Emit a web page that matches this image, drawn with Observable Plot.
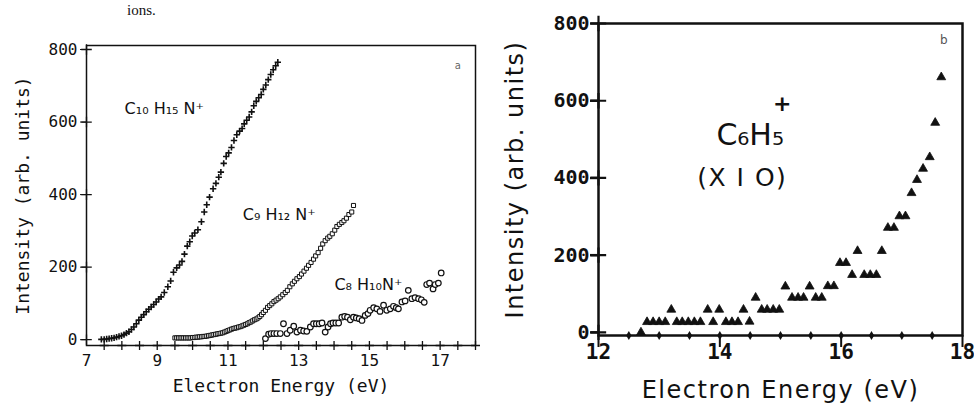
<!DOCTYPE html>
<html><head><meta charset="utf-8">
<script src="https://cdn.jsdelivr.net/npm/d3@7"></script>
<script src="https://cdn.jsdelivr.net/npm/@observablehq/plot@0.6"></script>
<style>
body{margin:0;background:#fff;}
#wrap{position:relative;width:974px;height:410px;overflow:hidden;background:#fff;}
#a{position:absolute;left:0;top:0;}
#b{position:absolute;left:490px;top:0;}
#cap{position:absolute;left:127px;top:2px;font:15px/17px "Liberation Serif",serif;color:#111;z-index:2;}
</style></head><body>
<div id="wrap"><div id="a"></div><div id="b"></div><div id="cap">ions.</div></div>
<script>
// ---------- Panel a data ----------
const c10E = [7.42,7.5,7.57,7.64,7.71,7.78,7.85,7.92,7.99,8.06,8.13,8.2,8.27,8.34,8.41,8.48,8.55,8.62,8.69,8.76,8.83,8.9,8.97,9.04,9.11,9.2,9.3,9.38,9.46,9.55,9.63,9.7,9.77,9.85,9.92,9.99,10.06,10.15,10.25,10.33,10.4,10.48,10.58,10.66,10.74,10.8,10.88,10.95,11.02,11.1,11.17,11.25,11.33,11.4,11.46,11.53,11.6,11.67,11.73,11.8,11.87,11.94,12.0,12.07,12.14,12.21,12.28,12.35,12.41];
const c10I = [1,1,2,3,4,5,7,9,11,14,18,22,28,35,44,54,62,69,77,84,90,97,104,112,118,130,146,162,186,198,206,216,236,258,270,286,294,303,325,352,372,393,416,431,448,462,486,505,515,530,549,565,575,582,595,605,614,628,645,657,667,676,690,702,717,731,744,755,765];

const c9E = [9.5,9.55,9.6,9.65,9.7,9.75,9.8,9.85,9.9,9.95,10.0,10.05,10.1,10.15,10.2,10.25,10.3,10.35,10.4,10.45,10.5,10.55,10.6,10.65,10.7,10.75,10.8,10.85,10.9,10.95,11.0,11.05,11.1,11.15,11.2,11.25,11.3,11.35,11.4,11.45,11.5,11.55,11.6,11.65,11.7,11.75,11.8,11.85,11.9,11.95,12.0,12.06,12.12,12.18,12.24,12.3,12.36,12.42,12.48,12.55,12.62,12.68,12.75,12.82,12.88,12.95,13.02,13.08,13.15,13.22,13.28,13.35,13.42,13.48,13.55,13.62,13.68,13.75,13.82,13.88,13.95,14.02,14.08,14.15,14.22,14.28,14.35,14.42,14.5,14.55];
const c9I = [5,5,5,5,5,5,5,5,5,5,6,6,7,7,8,8,9,9,10,11,12,13,14,15,16,17,18,19,21,23,25,27,29,31,32,33,35,36,38,40,42,44,47,49,52,55,57,60,64,69,75,81,89,94,99,105,109,113,118,124,130,136,146,154,161,168,174,181,189,197,205,213,222,231,240,252,264,273,280,285,292,302,312,318,323,328,335,345,352,370];

const c8E = [12.06,12.15,12.22,12.3,12.38,12.48,12.57,12.67,12.76,12.86,12.95,13.05,13.14,13.23,13.33,13.42,13.5,13.58,13.66,13.75,13.83,13.9,13.97,14.05,14.13,14.22,14.3,14.38,14.46,14.55,14.63,14.71,14.79,14.88,14.96,15.02,15.12,15.21,15.3,15.4,15.49,15.59,15.68,15.76,15.82,15.92,16.01,16.1,16.2,16.29,16.39,16.47,16.55,16.62,16.7,16.8,16.86,16.95,17.03];
const c8I = [3,15,17,17,17,17,44,17,26,37,21,26,24,23,35,44,44,44,46,21,35,44,46,46,46,62,64,62,55,62,60,58,53,67,72,81,88,85,78,95,81,85,92,88,85,104,107,136,113,116,113,110,103,152,156,140,152,156,184];

const xTicksA = [7,9,11,13,15,17];
const xMinorA = [7.5,8,8.5,9,9.5,10,10.5,11,11.5,12,12.5,13,13.5,14,14.5,15,15.5,16,16.5,17,17.5,18];
const yTicksA = [0,200,400,600,800];

// ---------- Panel b data ----------
const c6E = [12.7,12.8,12.9,13.0,13.1,13.2,13.29,13.38,13.48,13.58,13.68,13.8,13.89,13.99,14.1,14.2,14.3,14.39,14.49,14.59,14.69,14.78,14.88,14.98,15.08,15.19,15.29,15.38,15.48,15.58,15.68,15.78,15.88,15.98,16.08,16.18,16.27,16.38,16.48,16.58,16.67,16.77,16.87,16.96,17.06,17.16,17.25,17.35,17.46,17.55,17.65];
const c6I = [0,27,27,27,27,59,27,27,27,27,27,59,27,59,27,27,27,59,28,90,59,59,59,59,119,90,90,90,119,90,90,120,120,180,180,149,211,149,149,149,211,271,271,301,301,361,395,424,454,543,661];
const xTicksB = [12,14,16,18];
const xMinorB = [12.5,13,13.5,14,14.5,15,15.5,16,16.5,17,17.5];
const yTicksB = [0,200,400,600,800];

const ink = "#111";
const zip = (E, I) => E.map((e, k) => ({e, i: I[k]}));
const c10 = zip(c10E, c10I), c9 = zip(c9E, c9I), c8 = zip(c8E, c8I), c6 = zip(c6E, c6I);

const mono = "'DejaVu Sans Mono', monospace";
const sans = "'DejaVu Sans', sans-serif";

const left = Plot.plot({
  width: 490, height: 410,
  marginLeft: 86, marginRight: 15, marginTop: 45, marginBottom: 65,
  style: {fontFamily: mono, color: ink, background: "white", overflow: "visible"},
  x: {domain: [7, 18]},
  y: {domain: [-16, 811]},
  marks: [
    Plot.frame({stroke: ink, strokeWidth: 1.5}),
    Plot.axisX(xTicksA, {tickSize: 0, tickPadding: 9, fontSize: 16, label: null}),
    Plot.axisY(yTicksA, {tickSize: 6, tickPadding: 3, fontSize: 16, label: null}),
    Plot.dot(yTicksA, {x: () => 7, y: d => d, symbol: "plus", r: 3.5, stroke: ink, strokeWidth: 1.3}),
    Plot.dot(xMinorA, {x: d => d, y: () => -16, symbol: "plus", r: 3, stroke: ink, strokeWidth: 1.3}),
    Plot.dot(c10, {x: "e", y: "i", symbol: "plus", r: 2.2, stroke: ink, strokeWidth: 1.6}),
    Plot.dot(c9, {x: "e", y: "i", symbol: "square", r: 2.3, stroke: ink, fill: "white", strokeWidth: 1}),
    Plot.dot(c8, {x: "e", y: "i", symbol: "circle", r: 2.8, stroke: ink, fill: "white", strokeWidth: 1.2}),
    Plot.text(["C₁₀ H₁₅ N⁺"], {x: 9.2, y: 635, fontSize: 16, fontFamily: sans, fill: ink}),
    Plot.text(["C₉ H₁₂ N⁺"], {x: 12.45, y: 345, fontSize: 16, fontFamily: sans, fill: ink}),
    Plot.text(["C₈ H₁₀N⁺"], {x: 14.97, y: 152, fontSize: 16, fontFamily: sans, fill: ink}),
    Plot.text(["a"], {x: 17.5, y: 756, fontSize: 10, fontFamily: sans, fill: "#666"}),
    Plot.text(["Electron Energy (eV)"], {frameAnchor: "bottom", dy: 46, fontSize: 18, fill: ink}),
    Plot.text(["Intensity (arb. units)"], {frameAnchor: "left", dx: -63, rotate: -90, textAnchor: "middle", fontSize: 18, fill: ink})
  ]
});

const right = Plot.plot({
  width: 484, height: 410,
  marginLeft: 108, marginRight: 12, marginTop: 23, marginBottom: 75,
  style: {fontFamily: mono, color: ink, background: "white", overflow: "visible"},
  x: {domain: [12, 18]},
  y: {domain: [-8, 800]},
  marks: [
    Plot.frame({stroke: ink, strokeWidth: 2.5}),
    Plot.axisY(yTicksB, {tickSize: 8, tickPadding: 1, fontSize: 20, fontWeight: "bold", strokeWidth: 2.5, label: null}),
    Plot.axisX(xTicksB, {tickSize: 12, tickPadding: -3, fontSize: 21, fontWeight: "bold", strokeWidth: 2, label: null}),
    Plot.dot(yTicksB, {x: () => 12, y: d => d, symbol: "plus", r: 5, stroke: ink, strokeWidth: 2.2}),
    Plot.dot(xMinorB, {x: d => d, y: () => -8, symbol: "diamond", r: 2.8, fill: ink}),
    Plot.dot(c6, {x: "e", y: "i", symbol: "triangle", r: 3.3, fill: ink, stroke: ink, strokeWidth: 0.8}),
    Plot.text(["C₆H₅"], {x: 14.5, y: 510, fontSize: 30, fontFamily: sans, fill: ink}),
    Plot.text(["+"], {x: 15.03, y: 592, fontSize: 22, fontFamily: sans, fontWeight: "bold", fill: ink}),
    Plot.text(["(X I O)"], {x: 14.37, y: 399, fontSize: 25, fontFamily: sans, fill: ink}),
    Plot.text(["b"], {x: 17.69, y: 756, fontSize: 12, fontFamily: sans, fill: "#555"}),
    Plot.text(["Electron Energy (eV)"], {frameAnchor: "bottom", dy: 62, fontSize: 24, fontFamily: sans, fill: ink}),
    Plot.text(["Intensity (arb. units)"], {frameAnchor: "left", dx: -83, rotate: -90, textAnchor: "middle", fontSize: 24, fontFamily: sans, fill: ink})
  ]
});

document.getElementById("a").appendChild(left);
document.getElementById("b").appendChild(right);
d3.select(right).selectAll("text").filter(function(){ return /Electron|Intensity|X I O/.test(this.textContent); })
  .attr("letter-spacing", "1.5px");
</script>
</body></html>
